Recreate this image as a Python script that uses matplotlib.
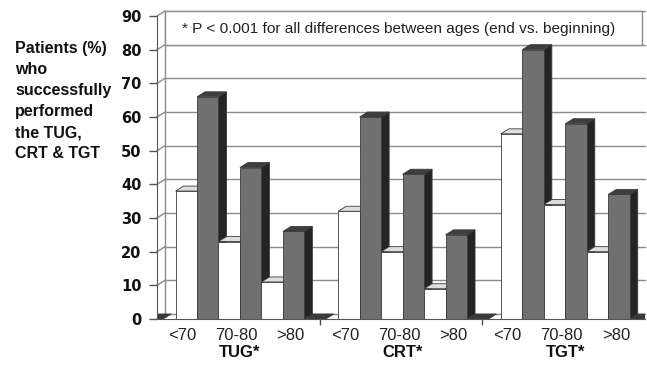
import matplotlib
matplotlib.use("Agg")
import matplotlib.pyplot as plt
from matplotlib.patches import Polygon, Rectangle

# percentages of patients who completed each test, beginning (white) vs end (grey)
tests = ["TUG", "CRT", "TGT"]
age_groups = ["<70", "70-80", ">80"]
begin_pct = [[38, 23, 11], [32, 20, 9], [55, 34, 20]]
end_pct = [[66, 45, 26], [60, 43, 25], [80, 58, 37]]
yticks = list(range(0, 100, 10))
note = "* P < 0.001 for all differences between ages (end vs. beginning)"
ylabel = "Patients (%)\nwho\nsuccessfully\nperformed\nthe TUG,\nCRT & TGT"

W_PX, H_PX = 647, 366
fig = plt.figure(figsize=(W_PX / 100, H_PX / 100), dpi=100)
ax = fig.add_axes([157 / W_PX, 47 / H_PX, 488 / W_PX, 303 / H_PX])
ax.set_xlim(0, 3)
ax.set_ylim(0, 90)

# depth of the pseudo-3d look, in data units (8 px right, 5 px up)
DX = 8 / (488 / 3)
DY = 5 / (303 / 90)
SLOT = 0.132
START = 0.114
EDGE = "#3a3a3a"
GRID = "#8c8c8c"


def bar3d(x, h, front, side, top, z):
    ax.add_patch(Polygon([(x + SLOT, 0), (x + SLOT + DX, DY), (x + SLOT + DX, h + DY), (x + SLOT, h)],
                         closed=True, fc=side, ec=EDGE, lw=0.6, zorder=z, clip_on=False))
    ax.add_patch(Polygon([(x, h), (x + SLOT, h), (x + SLOT + DX, h + DY), (x + DX, h + DY)],
                         closed=True, fc=top, ec=EDGE, lw=0.6, zorder=z, clip_on=False))
    ax.add_patch(Rectangle((x, 0), SLOT, h, fc=front, ec=EDGE, lw=0.6, zorder=z, clip_on=False))


# back wall gridlines + left wall slants
for v in yticks:
    ax.plot([DX, 3], [v + DY, v + DY], color=GRID, lw=1.0, zorder=1, clip_on=False)
    ax.plot([0, DX], [v, v + DY], color=GRID, lw=1.0, zorder=1, clip_on=False)
ax.plot([DX, DX], [DY, 90 + DY], color=GRID, lw=1.0, zorder=1, clip_on=False)

# note box on the back wall between 80 and 90
ax.add_patch(Rectangle((DX, 80 + DY), 2.981 - DX, 10, fc="white", ec=GRID, lw=1.0,
                       zorder=1.5, clip_on=False))
ax.text(1.488, 86.1, note, ha="center", va="center", fontsize=11.1,
        family="Liberation Sans", color="#222222", zorder=1.6)

# flat zero-height bars sitting on the floor between the groups
for i in range(-1, 4):
    x = i + START + 6 * SLOT
    ax.add_patch(Polygon([(x, 0), (x + SLOT, 0), (x + SLOT + DX, DY), (x + DX, DY)],
                         closed=True, fc="#3a3a3a", ec=EDGE, lw=0.6, zorder=2))

z = 3
for i, test in enumerate(tests):
    for k, age in enumerate(age_groups):
        xw = i + START + 2 * k * SLOT
        bar3d(xw, begin_pct[i][k], "white", "#bdbdbd", "#dedede", z)
        z += 1
        bar3d(xw + SLOT, end_pct[i][k], "#707070", "#242424", "#3e3e3e", z)
        z += 1
        ax.text(i + 0.155 + k / 3, -4.9, age, ha="center", va="center", fontsize=12,
                family="Liberation Sans", color="#222222")
    ax.text(i + 0.51, -10.0, test + "*", ha="center", va="center", fontsize=12,
            family="Liberation Sans", fontweight="bold", color="#111111")

# axes: front vertical line, floor line, ticks
for s in ("top", "right"):
    ax.spines[s].set_visible(False)
ax.spines["left"].set_color("#555555")
ax.spines["bottom"].set_color("#555555")
ax.spines["left"].set_zorder(50)
ax.spines["bottom"].set_zorder(50)
ax.set_yticks(yticks)
ax.set_yticklabels([str(v) for v in yticks], fontsize=10.5, fontweight="bold",
                   family="DejaVu Sans", color="#111111")
ax.tick_params(axis="y", length=6, width=1, color="#555555", pad=5)
ax.set_xticks([1, 2])
ax.set_xticklabels(["", ""])
ax.tick_params(axis="x", length=4, width=1, color="#555555")

fig.text(15 / W_PX, 1 - 41 / H_PX, ylabel, ha="left", va="top", fontsize=11.5,
         family="Liberation Sans", fontweight="bold", color="#111111", linespacing=1.5)

fig.savefig("out.png", dpi=100)
